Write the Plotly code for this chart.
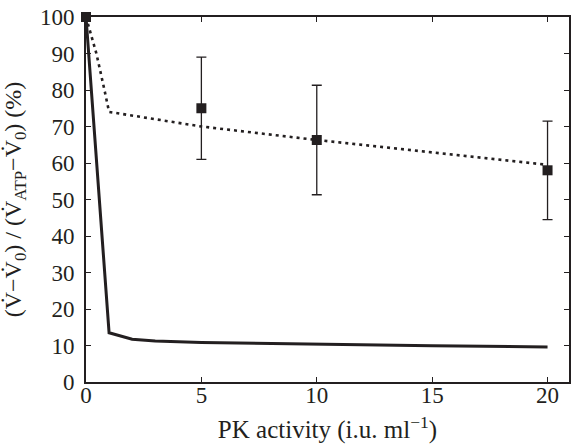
import plotly.graph_objects as go

# Data
solid_x = [0, 1, 2, 3, 5, 10, 15, 20]
solid_y = [100, 13.5, 11.7, 11.2, 10.8, 10.3, 9.9, 9.6]

dotted_x = [0, 0.2, 0.45, 0.8, 1.0, 5, 10, 20]
dotted_y = [100, 95.5, 90, 80, 74, 70, 66.3, 59.5]

meas_x = [0, 5, 10, 20]
meas_y = [100, 75, 66.3, 58]
meas_err = [0, 14, 15, 13.5]

x_ticks = [0, 5, 10, 15, 20]
y_ticks = [0, 10, 20, 30, 40, 50, 60, 70, 80, 90, 100]

INK = "#231f20"
FONT = "Liberation Serif, Times New Roman, serif"

fig = go.Figure()
fig.add_trace(go.Scatter(x=dotted_x, y=dotted_y, mode="lines",
                         line=dict(color=INK, width=2.6, dash="3px,4px"),
                         showlegend=False, hoverinfo="skip"))
fig.add_trace(go.Scatter(x=solid_x, y=solid_y, mode="lines",
                         line=dict(color=INK, width=3),
                         showlegend=False, hoverinfo="skip"))
fig.add_trace(go.Scatter(x=meas_x, y=meas_y, mode="markers", cliponaxis=False,
                         marker=dict(symbol="square", size=10, color=INK),
                         error_y=dict(type="data", array=meas_err, visible=True,
                                      color=INK, thickness=1.3, width=5),
                         showlegend=False))

axis_common = dict(showline=True, linecolor=INK, linewidth=2, mirror="ticks",
                   ticks="inside", ticklen=5, tickwidth=1.3, tickcolor=INK,
                   showgrid=False, zeroline=False,
                   tickfont=dict(family=FONT, size=23, color=INK))

fig.update_xaxes(range=[0, 20.93], tickvals=x_ticks, ticklabelstandoff=-9,
                 title=dict(text="PK activity (i.u. ml<sup>−1</sup>)",
                            font=dict(family=FONT, size=25, color=INK),
                            standoff=14),
                 **axis_common)
fig.update_yaxes(range=[0, 100], tickvals=y_ticks, ticklabelstandoff=5,
                 title=dict(text="(V\u0307−V\u0307<sub>0</sub>) / (V\u0307<sub>ATP</sub>−V\u0307<sub>0</sub>) (%)",
                            font=dict(family=FONT, size=24, color=INK),
                            standoff=12),
                 **axis_common)

fig.update_layout(width=573, height=446,
                  margin=dict(l=86, r=2, t=17, b=64),
                  plot_bgcolor="white", paper_bgcolor="white")

fig.write_html("out.html")
